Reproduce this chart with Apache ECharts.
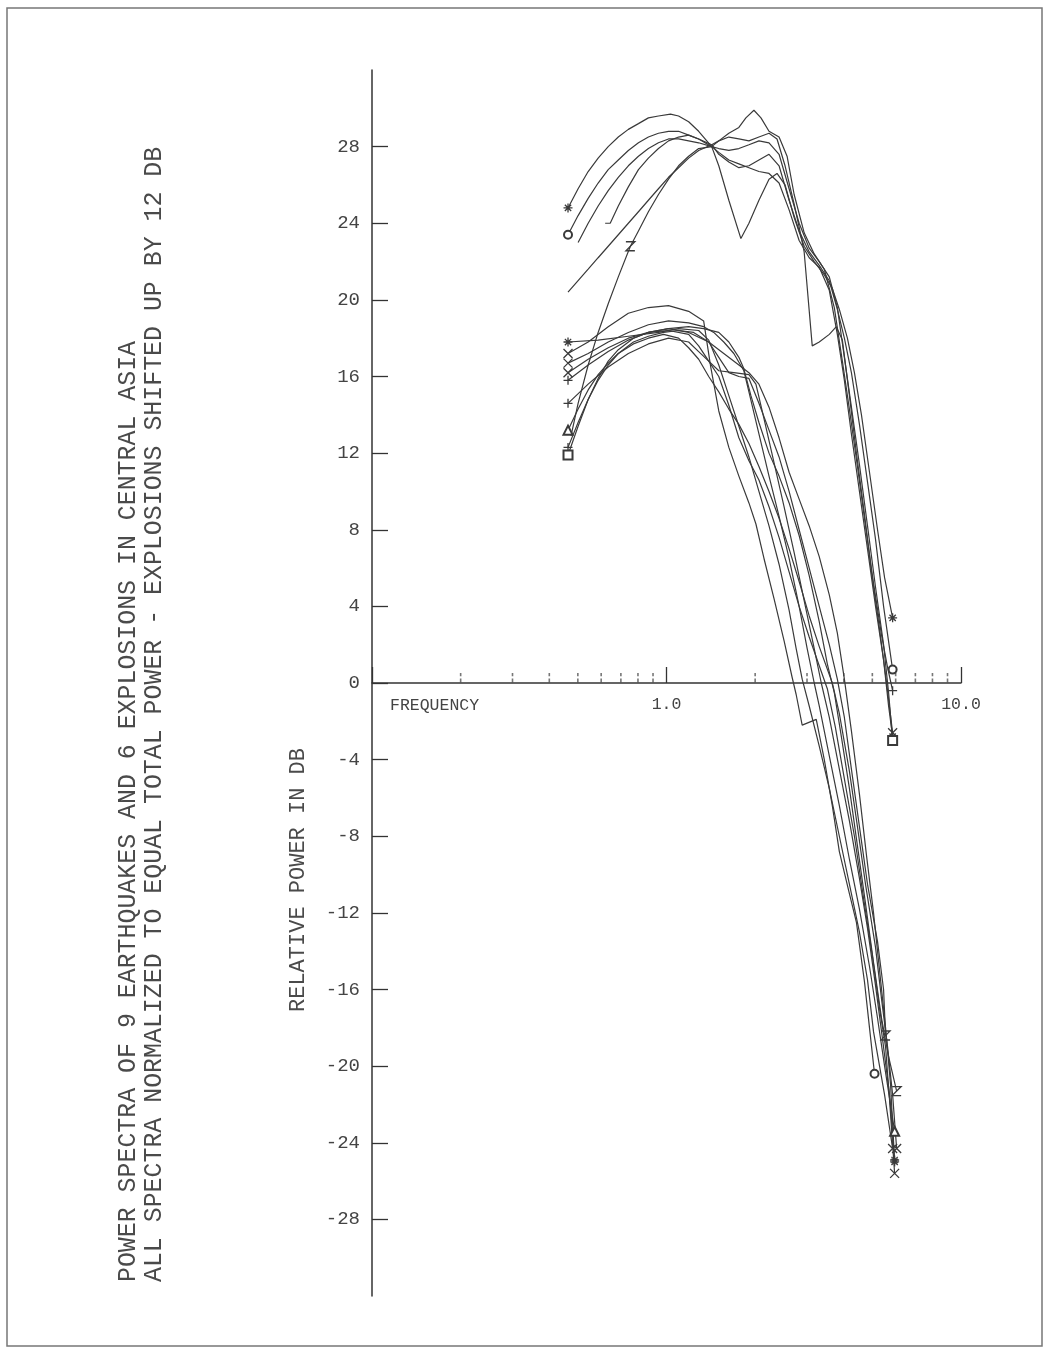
<!DOCTYPE html>
<html><head><meta charset="utf-8">
<script src="https://cdn.jsdelivr.net/npm/echarts@6/dist/echarts.min.js"></script>
<style>html,body{margin:0;padding:0;background:#fff}#chart{width:1049px;height:1352px}</style>
</head><body><div id="chart"></div>
<script>
// ---- texts ----
const titleLine1 = 'POWER SPECTRA OF 9 EARTHQUAKES AND 6 EXPLOSIONS IN CENTRAL ASIA';
const titleLine2 = 'ALL SPECTRA NORMALIZED TO EQUAL TOTAL POWER - EXPLOSIONS SHIFTED UP BY 12 DB';
const yAxisTitle = 'RELATIVE POWER IN DB';
const xAxisTitle = 'FREQUENCY';

// ---- ticks ----
const yTickValues = [-28,-24,-20,-16,-12,-8,-4,0,4,8,12,16,20,24,28];
const xMinorTicks = [0.2,0.3,0.4,0.5,0.6,0.7,0.8,0.9,2,3,4,5,6,7,8,9];

// ---- explosions (shifted up by 12 dB): [frequency, dB] ----
const ex1 = [[0.463,24.8],[0.501,25.8],[0.542,26.7],[0.586,27.4],[0.634,28.0],[0.686,28.5],[0.742,28.9],[0.803,29.2],[0.868,29.5],[0.939,29.6],[1.032,29.7],[1.099,29.6],[1.189,29.3],[1.286,28.8],[1.424,28.0],[1.505,27.0],[1.628,25.2],[1.789,23.2],[1.905,24.0],[2.060,25.2],[2.229,26.3],[2.373,26.6],[2.527,26.0],[2.713,24.3],[2.934,22.8],[3.174,22.0],[3.434,21.3],[3.656,20.6],[3.863,19.5],[4.114,18.0],[4.346,16.2],[4.592,14.0],[4.890,11.0],[5.207,8.0],[5.502,5.5],[5.859,3.4]];
const ex2 = [[0.463,23.4],[0.501,24.4],[0.542,25.3],[0.586,26.1],[0.634,26.8],[0.686,27.3],[0.742,27.8],[0.803,28.2],[0.868,28.5],[0.939,28.7],[1.016,28.8],[1.099,28.8],[1.189,28.6],[1.286,28.4],[1.424,28.1],[1.505,27.6],[1.628,27.2],[1.761,26.9],[1.905,27.0],[2.060,27.3],[2.229,27.6],[2.411,27.0],[2.608,25.2],[2.821,23.6],[3.052,22.5],[3.301,21.8],[3.571,21.0],[3.803,19.5],[4.018,18.0],[4.245,16.2],[4.520,13.5],[4.814,10.5],[5.126,7.5],[5.459,4.0],[5.859,0.7]];
const ex3 = [[0.619,24.0],[0.644,24.0],[0.686,24.9],[0.742,25.9],[0.803,26.8],[0.868,27.4],[0.939,27.9],[1.016,28.3],[1.099,28.5],[1.189,28.6],[1.286,28.4],[1.424,28.0],[1.505,28.3],[1.628,28.7],[1.761,29.0],[1.860,29.5],[1.981,29.9],[2.093,29.5],[2.229,28.8],[2.411,28.5],[2.567,27.5],[2.713,25.5],[2.934,23.5],[3.174,22.4],[3.434,21.6],[3.714,19.6],[3.955,16.8],[4.179,14.3],[4.450,11.3],[4.739,8.2],[5.046,5.2],[5.373,2.5],[5.633,0.8],[5.859,-0.4]];
const ex4 = [[0.463,20.4],[0.501,21.0],[0.542,21.6],[0.586,22.2],[0.634,22.8],[0.686,23.4],[0.742,24.0],[0.803,24.6],[0.868,25.2],[0.939,25.8],[1.016,26.4],[1.099,26.9],[1.189,27.4],[1.286,27.8],[1.424,28.1],[1.505,28.3],[1.628,28.5],[1.761,28.4],[1.905,28.3],[2.060,28.5],[2.229,28.7],[2.373,28.4],[2.527,27.0],[2.713,25.0],[2.821,23.8],[2.934,22.5],[3.125,17.6],[3.301,17.8],[3.571,18.2],[3.773,18.6],[3.955,17.9],[4.179,15.0],[4.415,12.0],[4.702,8.8],[4.967,5.8],[5.290,2.8],[5.589,0.0],[5.859,-2.6]];
const ex5 = [[0.474,12.9],[0.501,14.6],[0.542,16.6],[0.586,18.3],[0.634,19.8],[0.686,21.2],[0.754,22.8],[0.803,23.6],[0.868,24.6],[0.939,25.5],[1.016,26.3],[1.099,27.0],[1.189,27.5],[1.286,27.9],[1.424,28.0],[1.505,27.7],[1.628,27.3],[1.761,27.1],[1.905,26.9],[2.060,26.7],[2.229,26.6],[2.411,26.1],[2.608,24.7],[2.821,23.1],[3.052,22.2],[3.301,21.7],[3.571,20.5],[3.803,18.2],[4.018,15.8],[4.245,13.0],[4.520,10.0],[4.814,7.0],[5.126,4.0],[5.459,1.2],[5.677,-1.2],[5.859,-2.8]];
const ex6 = [[0.501,23.0],[0.542,24.0],[0.586,24.9],[0.634,25.7],[0.686,26.4],[0.742,27.0],[0.803,27.5],[0.868,27.9],[0.939,28.2],[1.016,28.4],[1.099,28.4],[1.189,28.3],[1.286,28.2],[1.424,28.0],[1.505,27.9],[1.628,27.8],[1.761,27.9],[1.905,28.1],[2.060,28.3],[2.229,28.2],[2.411,27.6],[2.608,25.8],[2.821,24.0],[3.052,22.7],[3.301,22.0],[3.571,21.2],[3.803,19.6],[4.018,17.0],[4.245,14.4],[4.520,11.4],[4.814,8.2],[5.126,5.0],[5.459,2.0],[5.677,-0.5],[5.859,-3.0]];

// ---- earthquakes: [frequency, dB] ----
const eq1 = [[0.463,17.2],[0.542,17.8],[0.634,18.6],[0.742,19.3],[0.868,19.6],[1.016,19.7],[1.189,19.4],[1.337,18.9],[1.413,16.5],[1.505,14.2],[1.628,12.3],[1.761,10.8],[1.905,9.4],[2.012,8.3],[2.143,6.5],[2.318,4.4],[2.508,2.2],[2.670,0.3],[2.756,-0.6],[2.889,-2.2],[3.225,-1.9],[3.434,-4.0],[3.656,-6.4],[3.863,-8.8],[4.179,-11.0],[4.415,-12.5],[4.702,-15.6],[4.890,-18.0],[5.086,-20.4]];
const eq2 = [[0.463,17.8],[0.586,17.9],[0.742,18.1],[0.939,18.3],[1.099,18.5],[1.286,18.4],[1.391,17.9],[1.505,16.6],[1.628,15.0],[1.761,13.4],[1.905,11.8],[2.060,10.0],[2.229,8.2],[2.411,6.2],[2.608,3.8],[2.756,1.8],[2.889,0.2],[3.052,-1.2],[3.301,-3.3],[3.571,-5.5],[3.863,-8.0],[4.179,-10.5],[4.520,-13.0],[4.814,-15.5],[5.046,-18.2],[5.290,-20.0],[5.502,-21.5],[5.859,-24.3]];
const eq3 = [[0.463,16.7],[0.542,17.2],[0.634,17.8],[0.742,18.3],[0.868,18.7],[1.016,18.9],[1.189,18.8],[1.337,18.6],[1.447,18.3],[1.565,17.8],[1.693,17.2],[1.831,16.3],[1.905,15.2],[2.060,13.0],[2.229,10.8],[2.411,8.7],[2.608,6.5],[2.821,4.0],[3.004,1.8],[3.174,0.0],[3.301,-1.2],[3.571,-3.8],[3.863,-6.4],[4.179,-9.2],[4.520,-11.8],[4.890,-14.8],[5.207,-17.5],[5.502,-20.0],[5.951,-23.4]];
const eq4 = [[0.463,16.2],[0.542,16.9],[0.634,17.5],[0.742,18.0],[0.868,18.3],[1.016,18.4],[1.189,18.2],[1.286,17.6],[1.391,16.8],[1.505,16.3],[1.693,16.2],[1.905,16.1],[2.012,15.6],[2.143,13.8],[2.318,11.5],[2.508,9.2],[2.713,6.8],[2.934,4.3],[3.174,1.8],[3.354,0.0],[3.571,-1.8],[3.863,-4.5],[4.179,-7.2],[4.520,-10.2],[4.814,-12.8],[5.126,-15.8],[5.416,-18.6],[5.722,-21.5],[5.951,-24.9]];
const eq5 = [[0.463,15.8],[0.542,16.6],[0.634,17.3],[0.742,17.9],[0.868,18.3],[1.016,18.5],[1.189,18.6],[1.337,18.5],[1.505,18.3],[1.628,17.8],[1.761,17.0],[1.831,16.4],[1.935,15.0],[2.060,13.6],[2.229,12.0],[2.411,10.8],[2.608,9.4],[2.821,7.7],[3.052,5.6],[3.301,3.2],[3.516,1.0],[3.714,-0.5],[3.924,-2.8],[4.179,-5.5],[4.450,-8.5],[4.739,-11.5],[5.046,-14.6],[5.373,-17.5],[5.677,-19.5],[6.046,-21.3]];
const eq6 = [[0.463,14.6],[0.542,15.6],[0.634,16.5],[0.742,17.2],[0.868,17.7],[1.016,18.0],[1.189,17.8],[1.286,17.3],[1.391,16.8],[1.505,16.0],[1.628,14.5],[1.761,12.8],[1.905,11.6],[2.060,10.6],[2.229,9.2],[2.411,7.6],[2.608,5.8],[2.821,4.0],[3.052,2.4],[3.301,0.9],[3.516,-0.3],[3.744,-2.3],[4.018,-5.0],[4.346,-8.0],[4.665,-11.2],[5.007,-14.3],[5.290,-17.0],[5.545,-19.0],[5.722,-21.8],[5.951,-25.6]];
const eq7 = [[0.463,13.2],[0.501,14.3],[0.542,15.3],[0.586,16.1],[0.634,16.7],[0.686,17.2],[0.772,17.7],[0.868,18.0],[0.977,18.2],[1.099,18.0],[1.189,17.5],[1.286,16.9],[1.391,16.0],[1.505,15.2],[1.628,14.3],[1.761,13.5],[1.905,12.5],[2.060,11.3],[2.229,10.0],[2.411,8.6],[2.608,7.0],[2.821,5.3],[3.052,3.5],[3.301,1.9],[3.656,0.0],[3.863,-1.6],[4.179,-4.6],[4.450,-7.5],[4.739,-10.5],[5.126,-13.8],[5.373,-16.5],[5.633,-19.0],[5.859,-21.5],[6.046,-24.3]];
const eq8 = [[0.463,12.3],[0.501,13.6],[0.542,14.8],[0.586,15.8],[0.634,16.6],[0.686,17.2],[0.772,17.8],[0.868,18.1],[0.977,18.3],[1.099,18.4],[1.236,18.3],[1.391,17.8],[1.505,17.0],[1.628,16.2],[1.761,16.0],[1.905,15.9],[2.060,14.6],[2.229,13.2],[2.411,11.8],[2.608,10.0],[2.821,8.0],[3.052,6.0],[3.301,4.0],[3.571,2.0],[3.803,0.2],[4.018,-1.8],[4.245,-4.5],[4.520,-7.5],[4.814,-10.5],[5.207,-13.5],[5.459,-16.0],[5.545,-18.4]];
const eq9 = [[0.463,11.9],[0.501,13.4],[0.542,14.8],[0.586,15.9],[0.634,16.8],[0.686,17.4],[0.772,18.0],[0.868,18.3],[1.016,18.5],[1.189,18.3],[1.391,17.8],[1.565,17.2],[1.761,16.6],[1.905,16.2],[2.060,15.6],[2.229,14.4],[2.411,12.8],[2.608,11.0],[2.821,9.6],[3.052,8.2],[3.301,6.6],[3.571,4.6],[3.803,2.6],[4.018,0.2],[4.245,-2.5],[4.520,-5.8],[4.776,-9.0],[5.046,-12.0],[5.290,-15.0],[5.545,-18.0],[5.767,-21.0],[5.951,-25.0]];

// ---- plotter markers per curve: [series, marker at start (or at point index), index, marker at end] ----
const curveMarkers = [
  [ex1,'star',0,'star'],[ex2,'circle',0,'circle'],[ex3,null,0,'plus'],[ex4,null,0,'cross'],[ex5,'zed',6,'star'],[ex6,null,0,'square'],
  [eq1,'cross',0,'circle'],[eq2,'star',0,'cross'],[eq3,'cross',0,'triangle'],[eq4,'cross',0,'star'],[eq5,'plus',0,'zed'],
  [eq6,'plus',0,'cross'],[eq7,'triangle',0,'cross'],[eq8,'plus',0,'zed'],[eq9,'square',0,'star']
];

const INK = '#3a3a3a';
const SYM = {
  star: 'path://M5,0L5,10M0,5L10,5M1.5,1.5L8.5,8.5M8.5,1.5L1.5,8.5',
  cross: 'path://M0,0L10,10M10,0L0,10',
  plus: 'path://M5,0L5,10M0,5L10,5',
  zed: 'path://M0,0L10,0L0,10L10,10',
  circle: 'emptyCircle',
  triangle: 'emptyTriangle',
  square: 'emptyRect'
};
function markerStyle(name) {
  if (name === 'circle' || name === 'triangle' || name === 'square') return {color: INK, borderWidth: 1.2};
  return {color: 'rgba(0,0,0,0)', borderColor: INK, borderWidth: 1.3};
}
function buildData(arr, startSym, startIdx, endSym) {
  return arr.map((p, i) => {
    let s = null;
    if (startSym && i === startIdx) s = startSym;
    if (endSym && i === arr.length - 1) s = endSym;
    if (!s) return {value: p, symbol: 'none'};
    return {value: p, symbol: SYM[s], symbolSize: s === 'circle' ? 8 : 9, itemStyle: markerStyle(s)};
  });
}

const lineSeries = curveMarkers.map(([arr, s0, i0, s1]) => ({
  type: 'line',
  data: buildData(arr, s0, i0, s1),
  symbol: 'none',
  showSymbol: true,
  lineStyle: {color: INK, width: 1.2},
  itemStyle: {color: INK},
  emphasis: {disabled: true},
  silent: true,
  z: 3
}));

const minorTickSeries = {
  type: 'scatter',
  data: xMinorTicks.map(f => [f, 0]),
  symbol: 'path://M0,0h2v3h-2zM0,5h2v4h-2z',
  symbolSize: [1.6, 10],
  symbolOffset: [0, -5],
  itemStyle: {color: '#555'},
  silent: true,
  z: 2
};

const FONT = 'Liberation Mono';
const chart = echarts.init(document.getElementById('chart'), null, {renderer: 'canvas'});
chart.setOption({
  animation: false,
  backgroundColor: '#fff',
  grid: {left: 372, right: 88, top: 70, bottom: 56, containLabel: false},
  xAxis: {
    type: 'log', logBase: 10, min: 0.1, max: 10,
    axisLine: {onZero: true, lineStyle: {color: '#333', width: 1.5}},
    axisTick: {show: true, inside: true, length: 16, lineStyle: {color: '#333', width: 1.3}},
    minorTick: {show: false},
    splitLine: {show: false},
    axisLabel: {
      margin: -600, fontFamily: FONT, fontSize: 16.5, color: '#444',
      formatter: v => (v >= 9.99 ? '10.0' : (v >= 0.999 ? '1.0' : ''))
    },
    name: xAxisTitle, nameLocation: 'start', nameGap: -18,
    nameTextStyle: {fontFamily: FONT, fontSize: 16.5, color: '#444', align: 'left', verticalAlign: 'top', padding: [14, 0, 0, 0]}
  },
  yAxis: {
    type: 'value', min: -32, max: 32, interval: 4,
    axisLine: {show: true, onZero: false, lineStyle: {color: '#333', width: 1.5}},
    axisTick: {show: true, inside: true, length: 16, customValues: yTickValues, lineStyle: {color: '#333', width: 1.3}},
    axisLabel: {customValues: yTickValues, margin: 12, fontFamily: FONT, fontSize: 19, color: '#444'},
    splitLine: {show: false}
  },
  graphic: [
    {type: 'rect', shape: {x: 7, y: 8, width: 1035, height: 1338}, style: {fill: 'none', stroke: '#777', lineWidth: 1.5}, silent: true, z: -1},
    {type: 'text', x: 128, y: 1282, rotation: Math.PI / 2,
     style: {text: titleLine1, font: '24.9px "Liberation Mono"', fill: '#4a4a4a', textAlign: 'left', textVerticalAlign: 'middle'}},
    {type: 'text', x: 154, y: 1282, rotation: Math.PI / 2,
     style: {text: titleLine2, font: '24.9px "Liberation Mono"', fill: '#4a4a4a', textAlign: 'left', textVerticalAlign: 'middle'}},
    {type: 'text', x: 298, y: 880, rotation: Math.PI / 2,
     style: {text: yAxisTitle, font: '22px "Liberation Mono"', fill: '#4a4a4a', textAlign: 'center', textVerticalAlign: 'middle'}}
  ],
  series: lineSeries.concat([minorTickSeries])
});
</script></body></html>
